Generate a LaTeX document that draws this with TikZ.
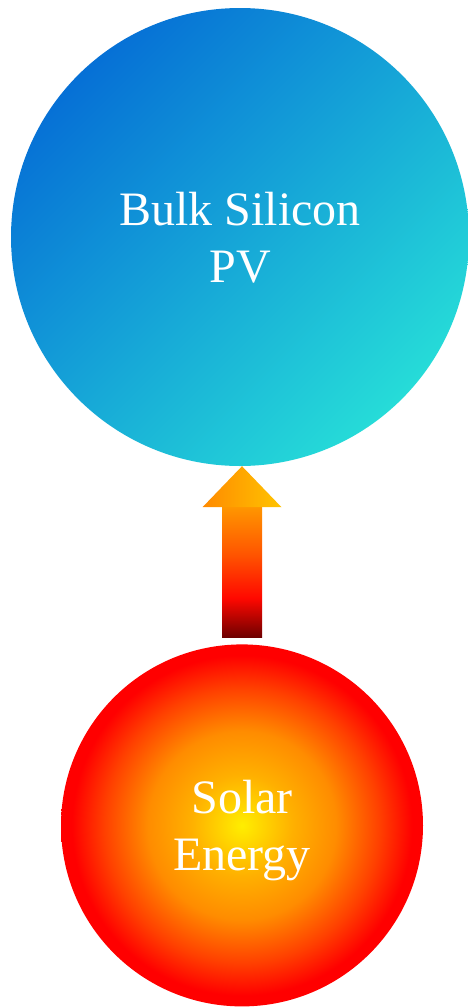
\documentclass[tikz,border=0pt]{standalone}
\usepackage{fontspec}
\setmainfont{Liberation Serif}
\usetikzlibrary{positioning,calc}
\definecolor{PVBlue}{HTML}{0670D6}
\definecolor{PVCyan}{HTML}{26DCD8}
\definecolor{SunYellow}{HTML}{FFEE00}
\definecolor{SunAmber}{HTML}{FFB000}
\definecolor{SunOrange}{HTML}{FF8C00}
\definecolor{SunFlame}{HTML}{FF4000}
\definecolor{SunRed}{HTML}{FF0000}
\definecolor{ArrowDark}{HTML}{6E0000}
\definecolor{ArrowRed}{HTML}{FF0800}
\definecolor{ArrowOrange}{HTML}{FF5500}
\definecolor{ArrowAmber}{HTML}{FF9600}
\definecolor{HeadAmber}{HTML}{FF8A00}
\definecolor{HeadGold}{HTML}{FFC400}
\pgfdeclareradialshading{sunglow}{\pgfpoint{0bp}{0bp}}{color(0bp)=(SunYellow); color(7bp)=(SunAmber); color(13bp)=(SunOrange); color(19bp)=(SunFlame); color(23.5bp)=(SunRed); color(50bp)=(SunRed)}
\pgfdeclareverticalshading{arrowfade}{100bp}{color(0bp)=(ArrowDark); color(25bp)=(ArrowDark); color(40bp)=(ArrowRed); color(57bp)=(ArrowOrange); color(75bp)=(ArrowAmber); color(100bp)=(ArrowAmber)}

\begin{document}
\begin{tikzpicture}[
  x=1pt, y=-1pt,
  ball/.style={circle, inner sep=0pt, align=center, text=white, text depth=0pt, font=\fontsize{48}{57}\selectfont},
  pvball/.style={ball, minimum size=458pt, top color=PVBlue, bottom color=PVCyan, shading angle=45},
  sunball/.style={ball, minimum size=362pt, shading=sunglow}
]
\useasboundingbox[fill=white] (0,0) rectangle (468,1007);
\node[pvball] (pv) at (240,237) {Bulk Silicon\\PV};
\node[sunball, below=178pt of pv, xshift=2pt] (sun) {Solar\\Energy};
% block arrow from the sun up to the PV cell
\coordinate (tip) at (sun.north |- pv.south);
\coordinate (tail) at ($(sun.north)+(0,-7)$);
\shade[shading=arrowfade] ($(tail)+(-20,0)$) rectangle ($(tip)+(20,41)$);
\shade[left color=HeadAmber, right color=HeadGold] (tip) -- ($(tip)+(39.5,41)$) -- ($(tip)+(-39.5,41)$) -- cycle;
\end{tikzpicture}
\end{document}
